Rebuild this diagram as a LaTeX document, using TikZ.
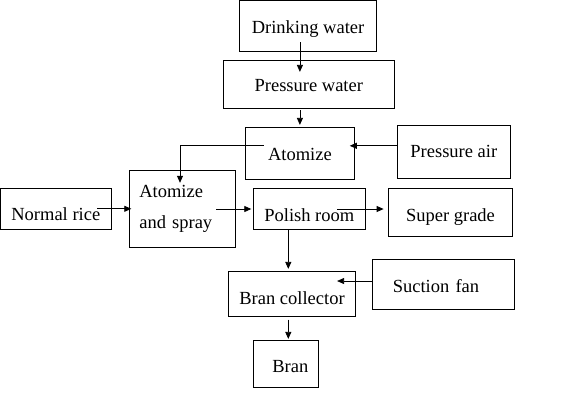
\documentclass[tikz,border=0pt]{standalone}
\usepackage{fontspec}
\setmainfont{Liberation Serif}
\usetikzlibrary{arrows.meta}

\tikzset{
  box/.style={draw, line width=0.8pt, inner sep=2pt, text height=15pt, text depth=0pt,
    font=\fontsize{18.5}{22}\selectfont},
  arr/.style={-{Triangle[length=7pt,width=6pt]}, line width=0.8pt},
}

\begin{document}
\begin{tikzpicture}[x=1pt,y=-1pt]
\useasboundingbox (0,0) rectangle (577,416);

% water and air supply
\node[box, minimum width=137pt, minimum height=50.5pt] (drink) at (308,25.8) {Drinking water};
\node[box, minimum width=171pt, minimum height=48pt] (pwater) at (308.8,84.3) {Pressure water};
\node[box, minimum width=109.7pt, minimum height=52pt, text height=13.4pt] (atom) at (299.9,153.3) {Atomize};
\node[box, minimum width=113pt, minimum height=53pt, text height=11.8pt] (pair) at (453.8,151.8) {Pressure air};

% rice line
\node[box, minimum width=110.5pt, minimum height=41pt, text height=22.4pt] (rice) at (55.8,208.8) {Normal rice};
\node[draw, line width=0.8pt, inner sep=2pt, minimum width=106.4pt, minimum height=76.6pt,
  text width=86.4pt, align=left, font=\fontsize{18.5}{30.6}\selectfont] (spray) at (182.5,209) {Atomize\\and spray};
\node[box, minimum width=112pt, minimum height=40.6pt, text height=24pt] (polish) at (309.3,209) {Polish room};
\node[box, minimum width=124.4pt, minimum height=47.6pt, text height=17pt] (super) at (450.5,212.5) {Super grade};

% bran line
\node[box, minimum width=127.4pt, minimum height=44.6pt, text height=20pt] (bcol) at (292,294) {Bran collector};
\node[box, minimum width=142pt, minimum height=50pt, text height=16pt, text width=101pt, align=left] (fan) at (443.3,284.3) {Suction fan};
\node[box, minimum width=65.4pt, minimum height=47pt, text height=17.8pt, text width=44.6pt, align=right] (bran) at (286,363.8) {Bran};

% arrows
\draw[arr, shorten <=-9pt, shorten >=-12pt] (drink.south -| atom.north) -- (pwater.north -| atom.north);
\draw[arr, shorten <=1.5pt, shorten >=2pt] (pwater.south -| atom.north) -- (atom.north);
\coordinate (airout) at ([yshift=6pt]pair.west);
\draw[arr, shorten >=-5.4pt] (airout) -- (airout -| atom.east);
\draw[arr, shorten <=-19pt, shorten >=-12.5pt] ([yshift=7.6pt]atom.west) -| ([xshift=-2.5pt]spray.north);
\draw[arr, shorten <=-14.3pt, shorten >=-2.4pt] (rice.east) -- (rice.east -| spray.west);
\draw[arr, shorten <=-19.7pt, shorten >=1.6pt] (spray.east) -- (polish.west);
\draw[arr, shorten <=-28.6pt, shorten >=4.3pt] (polish.east) -- (polish.east -| super.west);
\coordinate (bcin) at ([xshift=-3.7pt]bcol.north);
\draw[arr, shorten >=2.4pt] (polish.south -| bcin) -- (bcin);
\coordinate (fanout) at ([yshift=3.3pt]fan.west);
\draw[arr, shorten >=-19pt] (fanout) -- (fanout -| bcol.east);
\draw[arr, shorten <=3pt, shorten >=1pt] (bcol.south -| bcin) -- (bran.north -| bcin);

\end{tikzpicture}
\end{document}
